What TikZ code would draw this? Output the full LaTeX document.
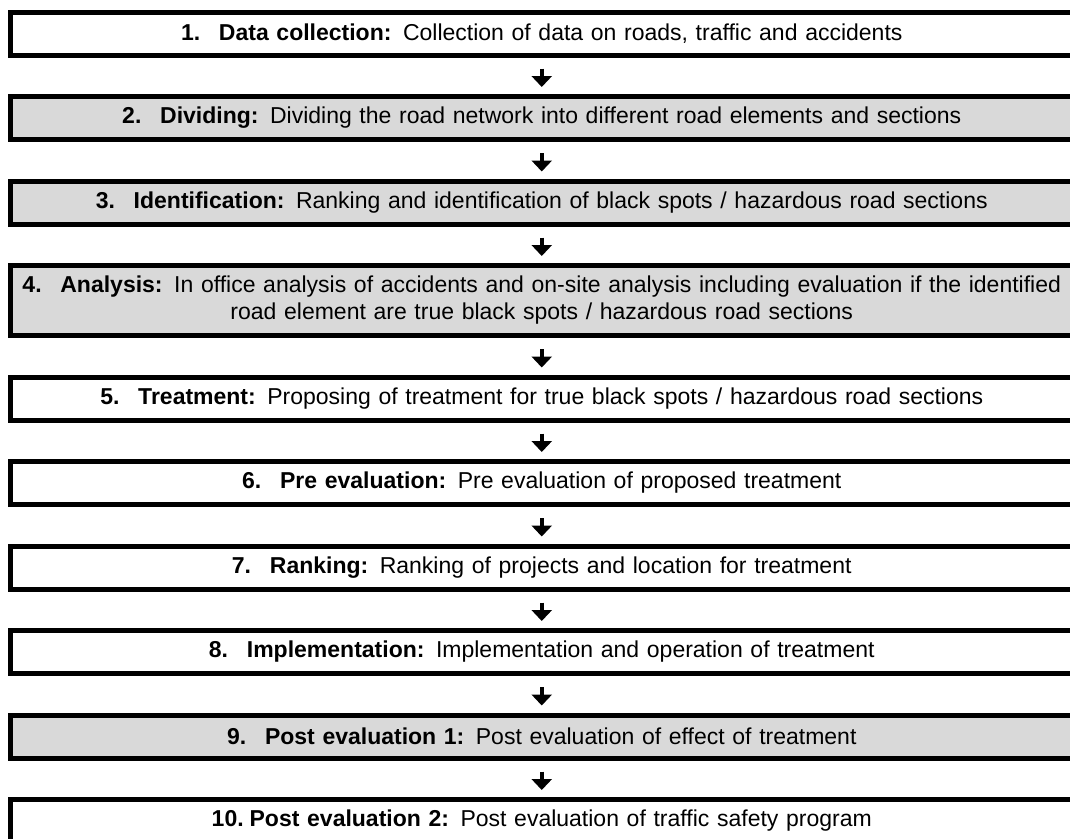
\documentclass[tikz,border=0pt]{standalone}
\usepackage{fontspec}
\setmainfont{Liberation Sans}
\usetikzlibrary{arrows.meta, positioning}
\definecolor{boxgray}{HTML}{D9D9D9}
\newcommand{\stepno}[1]{\makebox[1.65em][l]{\textbf{#1}}}

\begin{document}
\begin{tikzpicture}[
    x=1pt, y=-1pt,
    font=\fontsize{23}{27}\selectfont,
    stepbox/.style={draw=black, fill=white, line width=5pt, minimum width=1062.5pt,
        minimum height=43pt, text width=1060pt, align=center, inner sep=0pt},
    graybox/.style={stepbox, fill=boxgray},
    flowarrow/.style={line width=4.5pt, -{Triangle[width=20pt, length=11pt]},
        shorten <=11pt, shorten >=7pt},
    node distance=36.5pt
]
    \clip (0,0) rectangle (1070,838);

    % Steps of the procedure
    \node[stepbox] (b1) at (541.75, 33.5)
        {\stepno{1.}\textbf{Data collection:} Collection of data on roads, traffic and accidents};
    \node[graybox, below=of b1] (b2)
        {\stepno{2.}\textbf{Dividing:} Dividing the road network into different road elements and sections};
    \node[graybox, below=of b2] (b3)
        {\stepno{3.}\textbf{Identification:} Ranking and identification of black spots / hazardous road sections};
    \node[graybox, below=of b3, minimum height=70pt] (b4)
        {\stepno{4.}\textbf{Analysis:} In office analysis of accidents and on-site analysis including evaluation if the identified\\
         road element are true black spots / hazardous road sections};
    \node[stepbox, below=of b4] (b5)
        {\stepno{5.}\textbf{Treatment:} Proposing of treatment for true black spots / hazardous road sections};
    \node[stepbox, below=of b5] (b6)
        {\stepno{6.}\textbf{Pre evaluation:} Pre evaluation of proposed treatment};
    \node[stepbox, below=of b6] (b7)
        {\stepno{7.}\textbf{Ranking:} Ranking of projects and location for treatment};
    \node[stepbox, below=of b7] (b8)
        {\stepno{8.}\textbf{Implementation:} Implementation and operation of treatment};
    \node[graybox, below=of b8] (b9)
        {\stepno{9.}\textbf{Post evaluation 1:} Post evaluation of effect of treatment};
    \node[stepbox, below=of b9] (b10)
        {\stepno{10.}\textbf{Post evaluation 2:} Post evaluation of traffic safety program};

    % Arrows between steps
    \draw[flowarrow] (b1) -- (b2);
    \draw[flowarrow] (b2) -- (b3);
    \draw[flowarrow] (b3) -- (b4);
    \draw[flowarrow] (b4) -- (b5);
    \draw[flowarrow] (b5) -- (b6);
    \draw[flowarrow] (b6) -- (b7);
    \draw[flowarrow] (b7) -- (b8);
    \draw[flowarrow] (b8) -- (b9);
    \draw[flowarrow] (b9) -- (b10);

\end{tikzpicture}
\end{document}
